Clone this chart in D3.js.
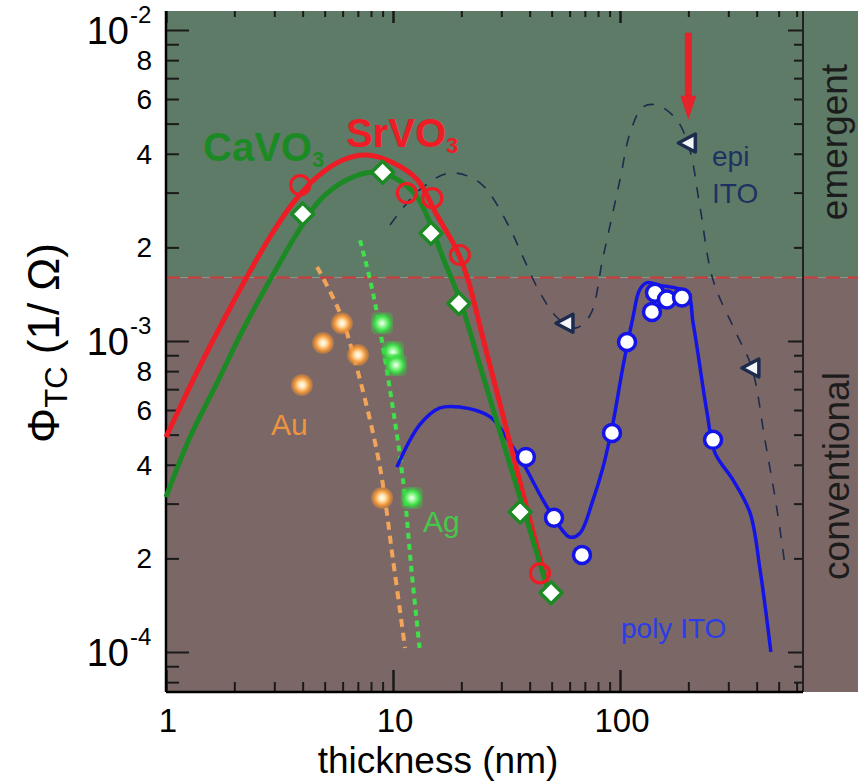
<!DOCTYPE html>
<html>
<head>
<meta charset="utf-8">
<script src="https://cdn.jsdelivr.net/npm/d3@7"></script>
<style>
  body { margin: 0; background: #fff; }
  svg { display: block; font-family: "Liberation Sans", Arial, sans-serif; }
</style>
</head>
<body>
<svg id="chart" width="858" height="782"></svg>
<script>
// ---- data: [thickness (nm), Phi_TC (1/Ohm)] ----
var srvo3Pts = [[3.9, 3.17e-3], [11.5, 2.99e-3], [14.9, 2.88e-3], [19.7, 1.89e-3], [44.4, 1.79e-4]];
var srvo3Fit = [[1, 4.91e-4], [1.315, 7.49e-4], [1.729, 1.109e-3], [2.27, 1.607e-3], [2.87, 2.16e-3],
  [3.63, 2.78e-3], [4.63, 3.37e-3], [6.02, 3.82e-3], [7.68, 3.96e-3], [10.0, 3.74e-3], [12.8, 3.30e-3],
  [15.6, 2.54e-3], [19.1, 1.96e-3], [21.2, 1.61e-3], [25.4, 9.64e-4], [31.1, 5.45e-4], [38.1, 3.06e-4], [49.2, 1.52e-4]];

var cavo3Pts = [[4.0, 2.56e-3], [9.0, 3.49e-3], [14.7, 2.22e-3], [19.5, 1.32e-3], [36.3, 2.82e-4], [49.7, 1.55e-4]];
var cavo3Fit = [[1, 3.15e-4], [1.276, 4.91e-4], [1.678, 7.33e-4], [2.18, 1.085e-3], [2.87, 1.57e-3],
  [3.78, 2.22e-3], [4.77, 2.84e-3], [6.27, 3.30e-3], [8.16, 3.49e-3], [10.0, 3.37e-3], [12.8, 2.90e-3],
  [16.9, 1.79e-3], [19.7, 1.36e-3], [24.2, 8.31e-4], [29.6, 5.10e-4], [36.3, 3.13e-4], [49.7, 1.47e-4]];

var auPts = [[3.97, 7.22e-4], [4.92, 9.85e-4], [5.96, 1.14e-3], [7.01, 9.02e-4], [8.95, 3.13e-4]];
var auFit = [[4.63, 1.73e-3], [5.84, 1.23e-3], [7.16, 7.49e-4], [8.76, 3.93e-4], [10.0, 1.98e-4], [11.3, 1.03e-4]];

var agPts = [[8.95, 1.14e-3], [10.0, 9.22e-4], [10.3, 8.37e-4], [12.1, 3.13e-4]];
var agFit = [[7.16, 2.11e-3], [8.16, 1.43e-3], [9.70, 6.96e-4], [11.07, 3.57e-4], [12.1, 1.79e-4], [13.1, 1.03e-4]];

var polyPts = [[38.5, 4.24e-4], [51.2, 2.70e-4], [68.0, 2.05e-4], [92.2, 5.06e-4], [107.4, 9.93e-4],
  [138.3, 1.24e-3], [142.6, 1.43e-3], [161, 1.36e-3], [187.6, 1.38e-3], [257, 4.81e-4]];
var polyFit = [[10.4, 3.93e-4], [13.1, 5.37e-4], [16.1, 6.09e-4], [19.7, 6.13e-4], [26.8, 5.70e-4],
  [32.8, 4.70e-4], [37.4, 4.05e-4], [45.8, 3.08e-4], [54.4, 2.52e-4], [60.2, 2.34e-4], [66.6, 2.41e-4],
  [76.0, 3.08e-4], [84.2, 3.93e-4], [93.1, 5.45e-4], [103, 8.25e-4], [114, 1.19e-3], [122, 1.46e-3],
  [131.5, 1.54e-3], [150, 1.51e-3], [197, 1.43e-3], [210, 1.14e-3], [242, 5.86e-4], [262, 4.37e-4],
  [315, 3.57e-4], [374, 2.80e-4], [414, 1.84e-4], [462, 1.0e-4]];

var epiPts = [[200, 4.33e-3], [57.8, 1.14e-3], [381, 8.19e-4]];
var epiFit = [[9.70, 2.36e-3], [13.1, 3.06e-3], [17.8, 3.47e-3], [24.2, 3.22e-3], [31.8, 2.40e-3],
  [37.4, 1.86e-3], [44.4, 1.43e-3], [52.8, 1.19e-3], [63.4, 1.10e-3], [73.8, 1.21e-3], [84.2, 1.86e-3],
  [100, 3.30e-3], [110.7, 4.66e-3], [126, 5.65e-3], [145.5, 5.74e-3], [178, 5.14e-3], [203, 4.11e-3],
  [225, 2.70e-3], [257, 1.57e-3], [321, 1.08e-3], [381, 8.19e-4], [435, 4.81e-4], [492, 2.86e-4], [533, 1.90e-4]];

var threshold = 1.6e-3;           // emergent / conventional border
var arrowX = 200, arrowFrom = 9.8e-3, arrowTo = 5.15e-3;

var xMajor = [1, 10, 100];
var xMajorLabels = ["1", "10", "100"];
var yMajor = [1e-4, 1e-3, 1e-2];
var yMajorExp = ["-4", "-3", "-2"];
var yMinorLabels = [2, 4, 6, 8];

// ---- layout ----
var svg = d3.select("#chart");
var pLeft = 166, pRight = 803, pTop = 11, pBottom = 692, stripRight = 858;

var x = d3.scaleLog().domain([1, 640]).range([pLeft, pRight]);
var y = d3.scaleLog().domain([Math.pow(10, -4 - 40 / 311), Math.pow(10, -2 + 19 / 311)]).range([pBottom, pTop]);

var minorY = [], minorX = [];
[1e-5, 1e-4, 1e-3].forEach(function (d) {
  for (var k = 2; k <= 9; k++) { var v = d * k; if (v >= y.domain()[0] && v <= y.domain()[1]) minorY.push(v); }
});
[1, 10, 100].forEach(function (d) {
  for (var k = 2; k <= 9; k++) { var v = d * k; if (v <= x.domain()[1]) minorX.push(v); }
});

// background bands
var yT = y(threshold);
svg.append("rect").attr("x", pLeft - 1).attr("y", pTop).attr("width", stripRight - pLeft + 1).attr("height", yT - pTop).attr("fill", "#5e7b67");
svg.append("rect").attr("x", pLeft - 1).attr("y", yT).attr("width", stripRight - pLeft + 1).attr("height", pBottom - yT).attr("fill", "#7b6866");

svg.append("line").attr("x1", pLeft).attr("x2", stripRight).attr("y1", yT).attr("y2", yT)
  .attr("stroke", "#d23a3a").attr("stroke-width", 2).attr("stroke-dasharray", "14,8");

// ---- axes (ticks point inward) ----
function tickAxis(gen, tx, ty, vals, size, width, color) {
  var g = svg.append("g").attr("transform", "translate(" + tx + "," + ty + ")")
    .call(gen.tickValues(vals).tickSize(size).tickFormat(""));
  g.select(".domain").remove();
  g.selectAll("line").attr("stroke", color).attr("stroke-width", width);
  return g;
}
tickAxis(d3.axisRight(y), pLeft, 0, minorY, 13, 2, "#1a1a1a");
tickAxis(d3.axisRight(y), pLeft, 0, yMajor, 23, 2, "#1a1a1a");
tickAxis(d3.axisLeft(y), pRight, 0, minorY, 9, 2, "#1a1a1a");
tickAxis(d3.axisLeft(y), pRight, 0, yMajor, 15, 2, "#1a1a1a");
tickAxis(d3.axisTop(x), 0, pBottom, minorX, 10, 2, "#1a1a1a");
tickAxis(d3.axisTop(x), 0, pBottom, xMajor, 22, 2.5, "#1a1a1a");
tickAxis(d3.axisBottom(x), 0, pTop, minorX, 6, 2, "#1a1a1a");
tickAxis(d3.axisBottom(x), 0, pTop, xMajor, 12, 2.5, "#1a1a1a");

svg.append("line").attr("x1", pLeft).attr("x2", pLeft).attr("y1", pTop).attr("y2", pBottom).attr("stroke", "#000").attr("stroke-width", 2.5);
svg.append("line").attr("x1", pRight).attr("x2", pRight).attr("y1", pTop).attr("y2", pBottom).attr("stroke", "#222").attr("stroke-width", 2);
svg.append("line").attr("x1", pLeft).attr("x2", pRight).attr("y1", pBottom).attr("y2", pBottom).attr("stroke", "#000").attr("stroke-width", 2.5);

// y tick labels
yMajor.forEach(function (v, i) {
  svg.append("text").attr("x", 129).attr("y", y(v) + 14).attr("text-anchor", "end")
    .attr("font-size", 38).attr("fill", "#000").text("10");
  svg.append("text").attr("x", 130).attr("y", y(v) - 7).attr("font-size", 24).attr("fill", "#000").text(yMajorExp[i]);
});
[1e-4, 1e-3].forEach(function (d) {
  yMinorLabels.forEach(function (k) {
    svg.append("text").attr("x", 152).attr("y", y(d * k) + 10).attr("text-anchor", "end")
      .attr("font-size", 28).attr("fill", "#000").text(k);
  });
});
// x tick labels
xMajor.forEach(function (v, i) {
  svg.append("text").attr("x", x(v) + 2).attr("y", 732).attr("text-anchor", "middle")
    .attr("font-size", 33).attr("fill", "#000").text(xMajorLabels[i]);
});
svg.append("text").attr("x", 438).attr("y", 773).attr("text-anchor", "middle")
  .attr("font-size", 37).attr("fill", "#000").text("thickness (nm)");

var yl = svg.append("text").attr("transform", "translate(59,343) rotate(-90)")
  .attr("text-anchor", "middle").attr("font-size", 44).attr("fill", "#000");
yl.append("tspan").text("\u03A6");
yl.append("tspan").attr("font-size", 31).attr("dy", 8).text("TC");
yl.append("tspan").attr("dy", -8).text(" (1/ \u03A9)");

svg.append("text").attr("transform", "translate(847,142) rotate(-90)").attr("text-anchor", "middle")
  .attr("font-size", 37).attr("fill", "#1c1c1c").text("emergent");
svg.append("text").attr("transform", "translate(849,476) rotate(-90)").attr("text-anchor", "middle")
  .attr("font-size", 37).attr("fill", "#1c1c1c").text("conventional");

// ---- curves ----
var line = d3.line().x(function (d) { return x(d[0]); }).y(function (d) { return y(d[1]); })
  .curve(d3.curveCatmullRom.alpha(0.5));

function curve(data, color, width, dash) {
  var p = svg.append("path").datum(data).attr("d", line).attr("fill", "none")
    .attr("stroke", color).attr("stroke-width", width).attr("stroke-linecap", "butt");
  if (dash) p.attr("stroke-dasharray", dash);
  return p;
}
curve(epiFit, "#1d2c4e", 1.6, "11,11");
curve(auFit, "#f2a45a", 4, "8,6");
curve(agFit, "#3fe04a", 4, "6,5");
curve(polyFit, "#1414e6", 3.5);
curve(srvo3Fit, "#ee1c24", 5);
curve(cavo3Fit, "#1c8a24", 5);

// ---- markers ----
var defs = svg.append("defs");
function glow(id, stops) {
  var g = defs.append("radialGradient").attr("id", id);
  stops.forEach(function (s) { g.append("stop").attr("offset", s[0]).attr("stop-color", s[1]).attr("stop-opacity", s[2]); });
}
glow("auGlow", [["0%", "#fffef2", 1], ["30%", "#ffe2b0", 1], ["65%", "#f39a3c", 1], ["100%", "#e88a30", 0.35]]);
glow("agGlow", [["0%", "#f4fff4", 1], ["30%", "#9ff79f", 1], ["65%", "#3ee046", 1], ["100%", "#30d040", 0.35]]);

svg.append("g").selectAll("circle").data(auPts).enter().append("circle")
  .attr("cx", function (d) { return x(d[0]); }).attr("cy", function (d) { return y(d[1]); })
  .attr("r", 11).attr("fill", "url(#auGlow)");

svg.append("g").selectAll("rect").data(agPts).enter().append("rect")
  .attr("x", function (d) { return x(d[0]) - 11; }).attr("y", function (d) { return y(d[1]) - 11; })
  .attr("width", 22).attr("height", 22).attr("rx", 5).attr("fill", "url(#agGlow)");

svg.append("g").selectAll("circle").data(srvo3Pts).enter().append("circle")
  .attr("cx", function (d) { return x(d[0]); }).attr("cy", function (d) { return y(d[1]); })
  .attr("r", 9.5).attr("fill", "none").attr("stroke", "#ee1c24").attr("stroke-width", 3.2);

svg.append("g").selectAll("path").data(cavo3Pts).enter().append("path")
  .attr("transform", function (d) { return "translate(" + x(d[0]) + "," + y(d[1]) + ")"; })
  .attr("d", "M0,-11L11,0L0,11L-11,0Z").attr("fill", "#fff").attr("stroke", "#1c8a24").attr("stroke-width", 3.5)
  .attr("stroke-linejoin", "round");

svg.append("g").selectAll("circle").data(polyPts).enter().append("circle")
  .attr("cx", function (d) { return x(d[0]); }).attr("cy", function (d) { return y(d[1]); })
  .attr("r", 8.5).attr("fill", "#fff").attr("stroke", "#1414e6").attr("stroke-width", 3.5);

svg.append("g").selectAll("path").data(epiPts).enter().append("path")
  .attr("transform", function (d) { return "translate(" + x(d[0]) + "," + y(d[1]) + ")"; })
  .attr("d", "M-10,0L7,-9L7,9Z").attr("fill", "#f4f6fa").attr("stroke", "#1d2c4e").attr("stroke-width", 3.5)
  .attr("stroke-linejoin", "round");

// red arrow pointing at the best epi ITO film
var ax = x(arrowX), ay0 = y(arrowFrom), ay1 = y(arrowTo);
svg.append("line").attr("x1", ax).attr("x2", ax).attr("y1", ay0).attr("y2", ay1 - 20)
  .attr("stroke", "#e4232a").attr("stroke-width", 7);
svg.append("path").attr("d", "M" + (ax - 8) + "," + (ay1 - 24) + "L" + (ax + 8) + "," + (ay1 - 24) + "L" + ax + "," + ay1 + "Z")
  .attr("fill", "#e4232a");

// ---- series labels ----
var ca = svg.append("text").attr("x", 203).attr("y", 161).attr("font-size", 40).attr("font-weight", "bold").attr("fill", "#1c8a24");
ca.append("tspan").text("CaVO");
ca.append("tspan").attr("font-size", 22).attr("dy", 6).text("3");
var sr = svg.append("text").attr("x", 346).attr("y", 147).attr("font-size", 40).attr("font-weight", "bold").attr("fill", "#ee1c24");
sr.append("tspan").text("SrVO");
sr.append("tspan").attr("font-size", 22).attr("dy", 6).text("3");
svg.append("text").attr("x", 271).attr("y", 435).attr("font-size", 30).attr("fill", "#ec9440").text("Au");
svg.append("text").attr("x", 423).attr("y", 532).attr("font-size", 30).attr("fill", "#45c84a").text("Ag");
svg.append("text").attr("x", 712).attr("y", 166).attr("font-size", 28).attr("fill", "#1d3263").text("epi");
svg.append("text").attr("x", 712).attr("y", 203).attr("font-size", 28).attr("fill", "#1d3263").text("ITO");
svg.append("text").attr("x", 621).attr("y", 638).attr("font-size", 28).attr("fill", "#2a3ce6").text("poly ITO");
</script>
</body>
</html>
